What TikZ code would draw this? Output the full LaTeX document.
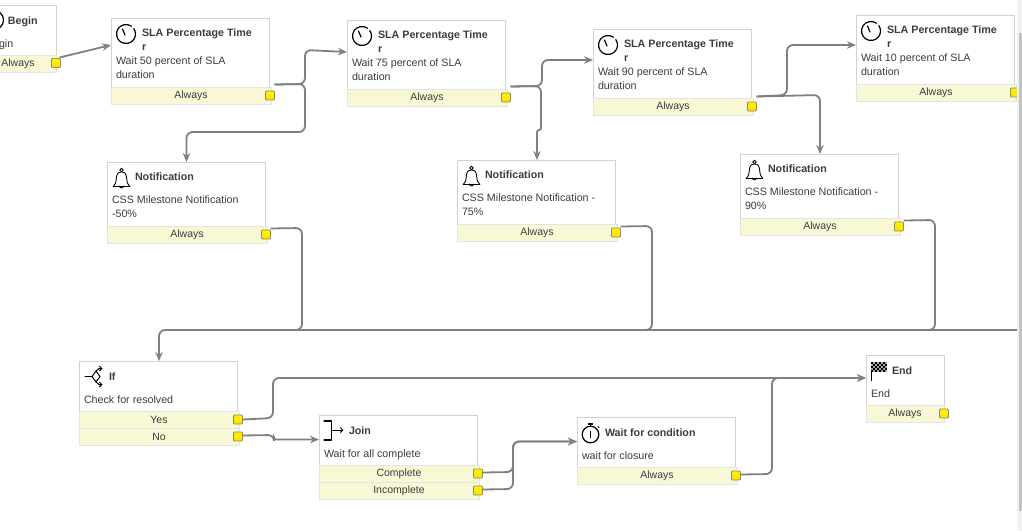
\documentclass[tikz,border=0pt]{standalone}
\usepackage{fontspec}
\setmainfont{Liberation Sans}
\usetikzlibrary{calc,arrows.meta}
\definecolor{yel}{HTML}{F8F8D4}
\definecolor{edgeW}{HTML}{D2D2D2}
\definecolor{edgeY}{HTML}{E4E4E4}
\definecolor{conn}{HTML}{808080}
\definecolor{txt}{HTML}{3C3C44}
\tikzset{
  wbox/.style={draw=edgeW,line width=1pt,fill=white,anchor=north west,inner sep=0pt,outer sep=0pt},
  ybox/.style={draw=edgeY,line width=1pt,fill=yel,anchor=north west,inner sep=0pt,outer sep=0pt,
     font=\fontsize{10.5}{14}\selectfont,text=txt},
  port/.style={draw=black!50!yellow!60!gray,line width=.8pt,top color=yellow!90!orange,bottom color=yellow!75!orange,
     rounded corners=1pt,minimum size=9pt,inner sep=0pt,outer sep=0pt},
  ttl/.style={font=\fontsize{10.7}{14}\selectfont\bfseries,text=txt,inner sep=0pt,outer sep=0pt,align=left,anchor=north west},
  dsc/.style={font=\fontsize{10.7}{14}\selectfont,text=txt,inner sep=0pt,outer sep=0pt,align=left,anchor=north west},
  connector/.style={draw=conn,line width=1.8pt,rounded corners=6pt},
  arrowed/.style={connector,-{Stealth[length=9pt,width=7.5pt]}},
  ico/.style={draw=black,line width=1.2pt,line cap=round,line join=round},
}
% id, left, top, percent
\newcommand{\slabox}[4]{%
  \node[wbox,minimum width=158pt,minimum height=69pt] (#1) at (#2,#3) {};
  \node[ybox,minimum width=160pt,minimum height=17pt] (#1y) at (#1.south west) {Always};
  \node[port] (#1p) at ($(#1y.east)+(-1,0)$) {};
  \node[ttl] (#1t) at ($(#1.north west)+(31,11.2)$) {SLA Percentage Time\\r};
  \node[dsc] (#1d) at ($(#1.north west)+(5,39.2)$) {Wait #4 percent of SLA\\duration};
  \begin{scope}[shift={($(#1.north west)+(15,16)$)},y=1pt,x=1pt]
    \draw[ico] (55:9.5) arc (55:395:9.5);
    \draw[ico] (-1,-1) -- (-3.5,5);
  \end{scope}
}
% id, left, top, description
\newcommand{\notebox}[4]{%
  \node[wbox,minimum width=158pt,minimum height=64pt] (#1) at (#2,#3) {};
  \node[ybox,minimum width=160pt,minimum height=17pt] (#1y) at (#1.south west) {Always};
  \node[port] (#1p) at ($(#1y.east)+(-1,0)$) {};
  \node[ttl] (#1t) at ($(#1.north west)+(28,11.2)$) {Notification};
  \node[dsc] (#1d) at ($(#1.north west)+(5,34.2)$) {#4};
  \begin{scope}[shift={($(#1.north west)+(14.5,16)$)},y=1pt,x=1pt]
    \draw[ico,line width=.9pt] (0,8) circle (1.8);
    \draw[ico,line width=.9pt] (-8.5,-8) -- (8.5,-8);
    \draw[ico,line width=.9pt] (-8,-8) .. controls (-5,-5) and (-5.5,-2) .. (-5,1)
       .. controls (-4.5,5) and (-2.5,6.2) .. (0,6.2)
       .. controls (2.5,6.2) and (4.5,5) .. (5,1)
       .. controls (5.5,-2) and (5,-5) .. (8,-8);
    \draw[ico,line width=.9pt] (-2,-8) arc (180:360:2);
  \end{scope}
}
\begin{document}
\begin{tikzpicture}[x=1pt,y=-1pt]
\clip (0,0) rectangle (1022,531);
\fill[white] (0,0) rectangle (1022,531);

% connector anchor points are declared after the boxes; boxes first
\node[wbox,minimum width=76pt,minimum height=50pt] (begin) at (-20,5) {};
\node[ybox,minimum width=76pt,minimum height=17pt] (beginy) at (begin.south west) {};
\node[font=\fontsize{10.5}{14}\selectfont,text=txt,inner sep=0pt] (beginalways) at (18,64) {Always};
\node[port] (beginp) at (56,63) {};
\node[ttl,anchor=base west] (begint) at (8,24) {Begin};
\node[dsc,anchor=base west] (begind) at (-1,47) {gin};
\begin{scope}[shift={(-6,20)},y=1pt,x=1pt]
  \draw[ico] (0,0) circle (9.5);
\end{scope}

\slabox{slaa}{111}{18}{50}
\slabox{slab}{347}{20}{75}
\slabox{slac}{593}{29}{90}
\slabox{slad}{856}{15}{10}

\notebox{nota}{107}{162}{CSS Milestone Notification\\-50\%}
\notebox{notb}{457}{160}{CSS Milestone Notification -\\75\%}
\notebox{notc}{740}{154}{CSS Milestone Notification -\\90\%}

% If
\node[wbox,minimum width=158pt,minimum height=50pt] (ifn) at (79,361) {};
\node[ybox,minimum width=160pt,minimum height=17pt] (ifyes) at (ifn.south west) {Yes};
\node[ybox,minimum width=160pt,minimum height=17pt] (ifno) at (ifyes.south west) {No};
\node[port] (ifyesp) at ($(ifyes.east)+(-1,0)$) {};
\node[port] (ifnop) at ($(ifno.east)+(-1,0)$) {};
\node[ttl,anchor=base west] (ift) at (109,380) {If};
\node[dsc,anchor=base west] (ifd) at (84,403) {Check for resolved};
\draw[ico,line width=1pt] (85,376.5) -- (92,376.5);
\draw[ico,line width=1pt] (92,376.5) -- (96,371) -- (100,376.5) -- (96,382) -- cycle;
\draw[ico,line width=1pt,-{Straight Barb[length=2.5pt,width=5pt]}] (96,371) -- (99,368.5) -- (102.5,368.5);
\draw[ico,line width=1pt,-{Straight Barb[length=2.5pt,width=5pt]}] (96,382) -- (99,384.5) -- (102.5,384.5);

% Join
\node[wbox,minimum width=158pt,minimum height=50pt] (join) at (319,415) {};
\node[ybox,minimum width=160pt,minimum height=17pt] (joinc) at (join.south west) {Complete};
\node[ybox,minimum width=160pt,minimum height=17pt] (joini) at (joinc.south west) {Incomplete};
\node[port] (joincp) at ($(joinc.east)+(-1,0)$) {};
\node[port] (joinip) at ($(joini.east)+(-1,0)$) {};
\node[ttl,anchor=base west] (joint) at (349,434) {Join};
\node[dsc,anchor=base west] (joind) at (324,457) {Wait for all complete};
\draw[ico] (324,421) -- (331.5,421) -- (331.5,440) -- (324,440);
\draw[ico,line width=1pt,-{Straight Barb[length=2.5pt,width=5pt]}] (331.5,430) -- (343.5,430);

% Wait
\node[wbox,minimum width=158pt,minimum height=50pt] (wait) at (577,417) {};
\node[ybox,minimum width=160pt,minimum height=17pt] (waity) at (wait.south west) {Always};
\node[port] (waitp) at ($(waity.east)+(-1,0)$) {};
\node[ttl,anchor=base west] (waitt) at (605,436) {Wait for condition};
\node[dsc,anchor=base west] (waitd) at (582,459) {wait for closure};
\begin{scope}[shift={(590.5,434.5)},y=1pt,x=1pt]
  \draw[ico] (0,0) circle (8.3);
  \draw[ico] (0,8.3) -- (0,10.5);
  \draw[ico] (-2,10.5) -- (2,10.5);
  \draw[ico] (0,3) -- (0,-3);
  \draw[ico,line width=1pt] (7.5,8) -- (8.5,7);
\end{scope}

% End
\node[wbox,minimum width=78pt,minimum height=50pt] (endn) at (866,355) {};
\node[ybox,minimum width=78pt,minimum height=17pt] (endy) at (endn.south west) {Always};
\node[port] (endp) at (endy.east) {};
\node[ttl,anchor=base west] (endt) at (892,374) {End};
\node[dsc,anchor=base west] (endd) at (871,397) {End};
\draw[black,line width=1pt] (871.5,362) -- (871.5,381);
\foreach \i in {0,...,7}{\foreach \j in {0,...,4}{
  \pgfmathtruncatemacro{\chk}{mod(\i+\j,2)}
  \ifnum\chk=0 \def\cc{black}\else\def\cc{black!35}\fi
  \fill[\cc] (871+2*\i,362+2*\j) rectangle ++(2,2);
}}

% connector free ends
\coordinate (a1) at ($(slaap.east)+(0,-11)$);
\coordinate (a2) at ($(slabp.east)+(0,-11)$);
\coordinate (a3) at ($(slacp.east)+(0,-10)$);
\coordinate (n1) at ($(notap.east)+(0,-6)$);
\coordinate (n2) at ($(notbp.east)+(0,-6)$);
\coordinate (n3) at ($(notcp.east)+(0,-6)$);
\coordinate (busR) at (1017,330);

% connectors
\draw[arrowed,rounded corners=0pt] ($(beginp.north east)+(-1,-1)$) -- ([yshift=7.5pt]slaa.west);
\draw[arrowed] (a1) -- (305,84) -- (305,50) -- ([yshift=2.5pt]slab.west);
\draw[arrowed] (a1) -- (305,84) -- (305,132) -- (186.5,132) -- ([xshift=.5pt]nota.north);
\draw[arrowed] (a2) -- (542,86) -- (542,60) -- ([yshift=3.5pt]slac.west);
\draw[arrowed] (a2) -- (541,86) [rounded corners=2pt] -- (541,130) -- (537,130) -- ([xshift=1pt]notb.north);
\draw[arrowed] (a3) -- (787,95) -- (787,45) -- ([yshift=4.5pt]slad.west);
\draw[arrowed] (a3) -- (820,95) -- ([xshift=1pt]notc.north);
\draw[connector] (n1) -- (302,228) -- (302,330) -- (290,330);
\draw[connector] (n2) -- (652,226) -- (652,330) -- (640,330);
\draw[connector] (n3) -- (935,220) -- (935,330) -- (923,330);
\draw[arrowed] (busR) -- (159,330) -- ([xshift=1pt]ifn.north);
\draw[arrowed] (ifyesp.east) -- (273,418) -- (273,378) -- ([yshift=2pt]endn.west);
\draw[arrowed] ($(ifnop.east)+(0,-1)$) -- (274,435) [rounded corners=2pt] -- (274,439.5) -- ([yshift=0.5pt]join.west);
\draw[arrowed] ($(joincp.east)+(0,-1)$) -- (513,472) -- (513,441.5) -- ([yshift=.5pt]wait.west);
\draw[arrowed] ($(joinip.east)+(0,-1)$) -- (513,489) -- (513,441.5) -- ([yshift=.5pt]wait.west);
\draw[arrowed] ($(waitp.east)+(0,-1)$) -- (772,474) -- (772,378) -- ([yshift=2pt]endn.west);

% scrollbar
\fill[black!5] (1017,0) rectangle (1022,531);
\fill[black!24] (1019,33) rectangle (1022,511);
\end{tikzpicture}
\end{document}
